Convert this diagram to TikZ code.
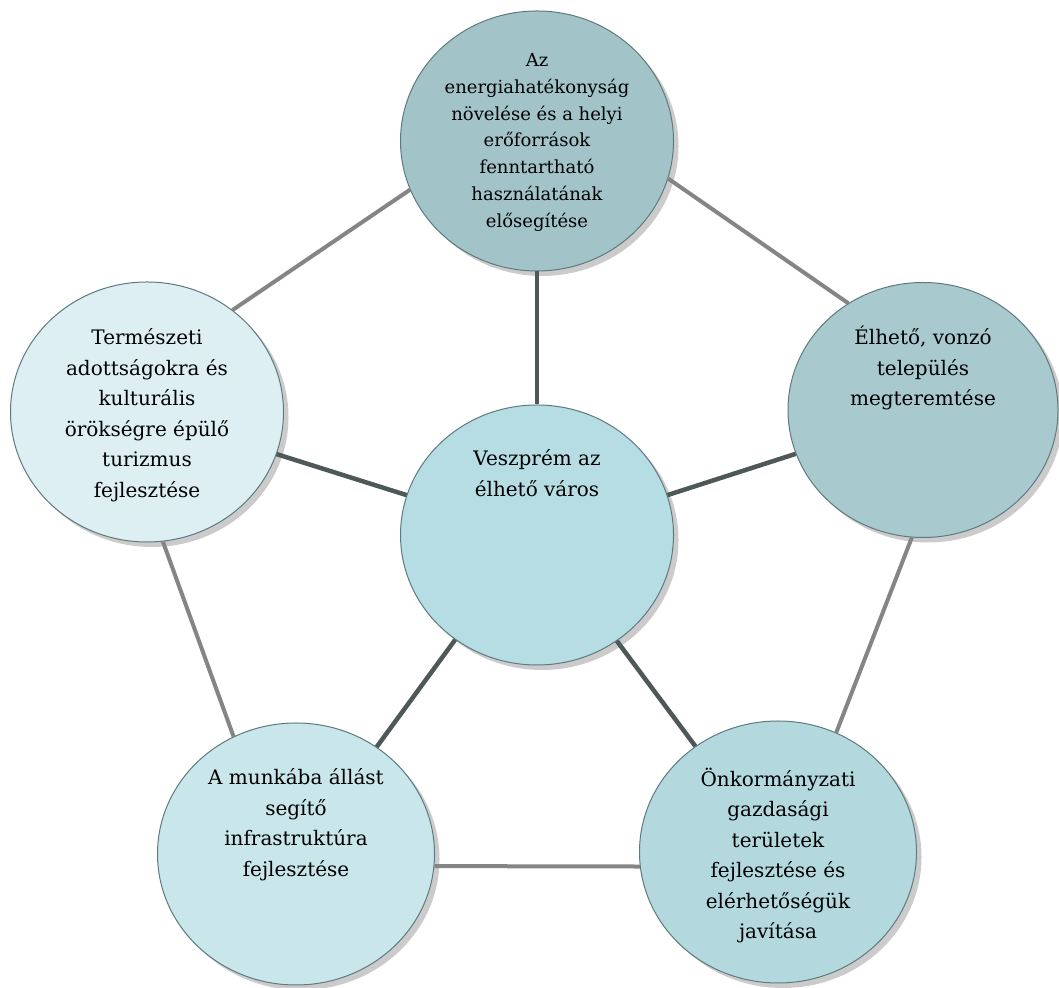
\documentclass[tikz,border=0pt]{standalone}
\usepackage{fontspec}
\setmainfont{DejaVu Serif}
\usepackage{tikz}
\usetikzlibrary{shapes.geometric,shadows,positioning}
\newcommand{\goalFont}[0]{\fontsize{20}{30.5}\selectfont}
\newcommand{\tightFont}[0]{\fontsize{18}{26.7}\selectfont}
\definecolor{goalLine}{HTML}{5F7A7E}
\definecolor{rimGray}{HTML}{858585}
\definecolor{spokeGray}{HTML}{4F5859}
\definecolor{energyFill}{HTML}{A2C4C8}
\definecolor{tourismFill}{HTML}{DDEFF2}
\definecolor{livableFill}{HTML}{A8CACE}
\definecolor{cityFill}{HTML}{B6DDE3}
\definecolor{jobsFill}{HTML}{C9E6EB}
\definecolor{businessFill}{HTML}{B3D9DF}

\begin{document}
\begin{tikzpicture}[x=1pt, y=1pt]
  \tikzset{goal/.style={ellipse, draw=goalLine, line width=1pt,
             minimum width=273pt, minimum height=260pt, inner sep=0pt,
             drop shadow={shadow xshift=5pt, shadow yshift=-5pt, fill=black!40}},
           goal text/.style={align=center, inner sep=0pt, font=\goalFont},
           rim/.style={draw=rimGray, line width=4pt},
           spoke/.style={draw=spokeGray, line width=4.5pt}}
  \useasboundingbox (0,0) rectangle (1059,987);
  \fill[white] (0,0) rectangle (1059,987);
  % circles
  \node[goal, fill=energyFill] (energy) at (537,846) {};
  \node[goal, fill=tourismFill] (tourism) at (147,575) {};
  \node[goal, fill=livableFill, minimum width=270pt, minimum height=255pt] (livable) at (923,577) {};
  \node[goal, fill=cityFill] (city) at (537,452) {};
  \node[goal, fill=jobsFill, minimum width=277pt, minimum height=262pt] (jobs) at (296,133) {};
  \node[goal, fill=businessFill, minimum width=277pt, minimum height=262pt] (business) at (778,135) {};
  % texts
  \node[goal text, font=\tightFont, below=43pt of energy.north] (energy text)
    {Az\\energiahatékonyság\\növelése és a helyi\\erőforrások\\fenntartható\\használatának\\elősegítése};
  \node[goal text, below=47pt of tourism.north] (tourism text)
    {Természeti\\adottságokra és\\kulturális\\örökségre épülő\\turizmus\\fejlesztése};
  \node[goal text, below=44pt of livable.north] (livable text)
    {Élhető, vonzó\\település\\megteremtése};
  \node[goal text, below=45pt of city.north] (city text)
    {Veszprém az\\élhető város};
  \node[goal text, below=46pt of jobs.north] (jobs text)
    {A munkába állást\\segítő\\infrastruktúra\\fejlesztése};
  \node[goal text, below=47pt of business.north] (business text)
    {Önkormányzati\\gazdasági\\területek\\fejlesztése és\\elérhetőségük\\javítása};
  % connectors
  \draw[rim] (energy.201) -- (tourism.50);
  \draw[rim] (energy.-16) -- (livable.125);
  \draw[rim] (tourism.-83) -- (jobs.118);
  \draw[rim] (livable.-95) -- (business.64);
  \draw[rim] (jobs.-5) -- (business.186);
  \draw[spoke] (energy.270) -- (city.90);
  \draw[spoke] (tourism.-18) -- (city.163);
  \draw[spoke] (livable.199) -- (city.17);
  \draw[spoke] (city.232) -- (jobs.53);
  \draw[spoke] (city.-53) -- (business.128);
\end{tikzpicture}
\end{document}
